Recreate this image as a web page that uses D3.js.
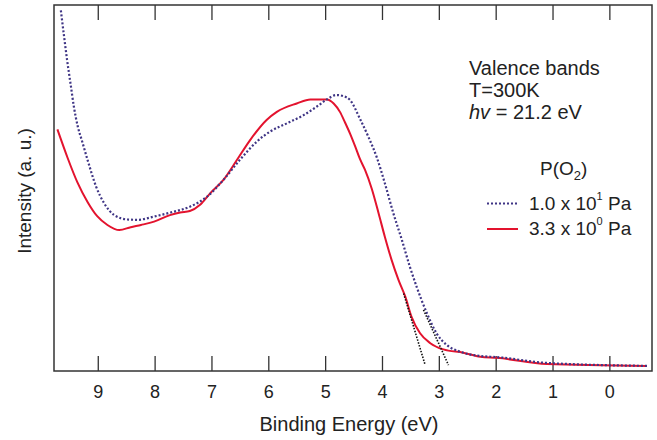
<!DOCTYPE html>
<html>
<head>
<meta charset="utf-8">
<script src="https://cdn.jsdelivr.net/npm/d3@7"></script>
<style>
  body { margin: 0; background: #fff; }
  text { font-family: "Liberation Sans", Arial, sans-serif; fill: #222; }
</style>
</head>
<body>
<svg id="chart"></svg>
<script>
//////////////// Daten ////////////////////
// Binding energy (eV) and intensity (a.u.)
const blueE = [9.65, 9.60, 9.54, 9.48, 9.42, 9.35, 9.28, 9.18, 9.03, 8.89, 8.71, 8.48, 8.30, 8.01, 7.72,
  7.38, 7.08, 6.79, 6.50, 6.20, 5.97, 5.67, 5.38, 5.15, 4.97, 4.80, 4.68, 4.56, 4.39, 4.24, 4.09,
  3.95, 3.80, 3.65, 3.51, 3.39, 3.21, 3.04, 2.86, 2.63, 2.27, 1.98, 1.10, -0.66];
const blueI = [98.6, 92.3, 85.0, 78.6, 72.2, 66.7, 63.0, 57.7, 50.4, 45.9, 42.6, 41.4, 41.3, 42.2, 43.3,
  44.9, 47.6, 52.2, 57.7, 62.7, 65.4, 67.7, 69.9, 72.2, 74.2, 75.4, 75.1, 74.0, 69.0, 64.0, 58.3,
  51.3, 43.1, 35.8, 28.5, 23.0, 15.8, 10.3, 7.1, 5.3, 4.1, 3.8, 2.2, 1.4];

const redE = [9.71, 9.53, 9.36, 9.18, 9.01, 8.83, 8.62, 8.42, 8.24, 8.01, 7.73, 7.55, 7.38, 7.20, 7.02,
  6.79, 6.55, 6.32, 6.03, 5.85, 5.50, 5.26, 4.97, 4.85, 4.74, 4.65, 4.56, 4.47, 4.39, 4.30, 4.18,
  4.06, 3.95, 3.83, 3.71, 3.59, 3.48, 3.33, 3.15, 2.92, 2.57, 2.27, 1.98, 1.10, -0.66];
const redI = [66.0, 58.2, 51.6, 46.2, 42.3, 39.9, 38.5, 39.3, 39.9, 40.8, 42.6, 43.3, 43.7, 45.4, 48.6,
  52.2, 57.7, 63.1, 68.6, 70.8, 73.1, 74.2, 74.2, 73.1, 70.8, 67.9, 64.8, 61.3, 58.0, 55.0, 49.8,
  43.1, 36.7, 30.3, 24.9, 20.3, 14.8, 10.3, 7.6, 5.9, 5.0, 3.9, 3.6, 1.9, 1.4];

// Tangent lines for the band edge
const tangentRed = [[3.62, 21.2], [3.24, 1.6]];
const tangentBlue = [[3.27, 16.7], [2.83, 1.6]];

const xTicks = [9, 8, 7, 6, 5, 4, 3, 2, 1, 0];
const infoLines = ["Valence bands", "T=300K"];

//////////////// Konstanten ////////////////////
const W = 657, H = 440;
const box = {left: 54, right: 652, top: 5, bottom: 371};
const blueCol = "#3f3585", redCol = "#e3132e", axisCol = "#333";

const svg = d3.select("#chart").attr("width", W).attr("height", H);

const x = d3.scaleLinear().domain([9.77, -0.75]).range([box.left, box.right]);
const y = d3.scaleLinear().domain([0, 100]).range([box.bottom, box.top]);

//////////////// Achsen ////////////////////
svg.append("g")
  .attr("transform", "translate(0," + box.bottom + ")")
  .call(d3.axisBottom(x).tickValues(xTicks).tickSize(-15).tickPadding(14).tickFormat(d3.format("d")))
  .call(g => g.select(".domain").remove())
  .call(g => g.selectAll("line").attr("stroke", axisCol).attr("stroke-width", 1.3))
  .call(g => g.selectAll("text").attr("font-size", 18).attr("fill", "#222")
    .style("font-family", "Liberation Sans, Arial, sans-serif"));

svg.append("g")
  .attr("transform", "translate(0," + box.top + ")")
  .call(d3.axisTop(x).tickValues(xTicks).tickSize(-15).tickFormat(""))
  .call(g => g.select(".domain").remove())
  .call(g => g.selectAll("line").attr("stroke", axisCol).attr("stroke-width", 1.3));

svg.append("rect")
  .attr("x", box.left).attr("y", box.top)
  .attr("width", box.right - box.left).attr("height", box.bottom - box.top)
  .attr("fill", "none").attr("stroke", axisCol).attr("stroke-width", 1.5);

svg.append("text")
  .attr("x", 349).attr("y", 431)
  .attr("text-anchor", "middle").attr("font-size", 20)
  .text("Binding Energy (eV)");

svg.append("text")
  .attr("transform", "translate(31,191) rotate(-90)")
  .attr("text-anchor", "middle").attr("font-size", 19)
  .text("Intensity (a. u.)");

//////////////// Kurven ////////////////////
const line = d3.line()
  .x(d => x(d[0]))
  .y(d => y(d[1]))
  .curve(d3.curveMonotoneX);

const redData = redE.map((e, i) => [e, redI[i]]).reverse();
const blueData = blueE.map((e, i) => [e, blueI[i]]).reverse();

svg.append("path")
  .datum(redData)
  .attr("d", line)
  .attr("fill", "none")
  .attr("stroke", redCol)
  .attr("stroke-width", 2);

svg.append("path")
  .datum(blueData)
  .attr("d", line)
  .attr("fill", "none")
  .attr("stroke", blueCol)
  .attr("stroke-width", 2.2)
  .attr("stroke-dasharray", "2,2");

[tangentRed, tangentBlue].forEach(t => {
  svg.append("path")
    .datum(t)
    .attr("d", d3.line().x(d => x(d[0])).y(d => y(d[1])))
    .attr("fill", "none")
    .attr("stroke", "#111")
    .attr("stroke-width", 1.6)
    .attr("stroke-dasharray", "1.5,1.5");
});

//////////////// Legende ////////////////////
infoLines.forEach((s, i) => {
  svg.append("text")
    .attr("x", 469).attr("y", 75 + i * 21.5)
    .attr("font-size", 20)
    .text(s);
});
const hv = svg.append("text").attr("x", 469).attr("y", 118.5).attr("font-size", 20);
hv.append("tspan").attr("font-style", "italic").text("hv");
hv.append("tspan").text(" = 21.2 eV");

const po = svg.append("text").attr("x", 540).attr("y", 175).attr("font-size", 19);
po.append("tspan").text("P(O");
po.append("tspan").attr("font-size", 13).attr("dy", 5).text("2");
po.append("tspan").attr("dy", -5).text(")");

const legend = [
  {mant: "1.0 x 10", exp: "1", col: blueCol, dash: "2,2", y: 203.5},
  {mant: "3.3 x 10", exp: "0", col: redCol, dash: null, y: 229}
];
legend.forEach(l => {
  svg.append("line")
    .attr("x1", 487).attr("x2", 518)
    .attr("y1", l.y).attr("y2", l.y)
    .attr("stroke", l.col).attr("stroke-width", 2)
    .attr("stroke-dasharray", l.dash);
  const t = svg.append("text").attr("x", 529).attr("y", l.y + 6).attr("font-size", 19);
  t.append("tspan").text(l.mant);
  t.append("tspan").attr("font-size", 11).attr("dy", -10).text(l.exp);
  t.append("tspan").attr("dy", 10).text(" Pa");
});
</script>
</body>
</html>
